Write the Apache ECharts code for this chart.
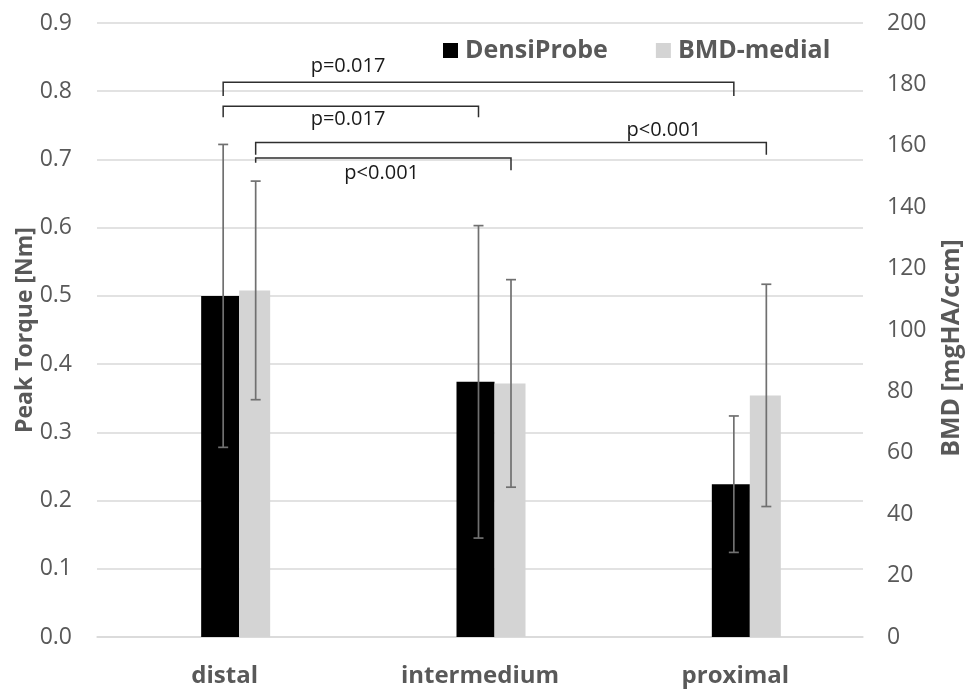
<!DOCTYPE html>
<html><head><meta charset="utf-8">
<script src="https://cdn.jsdelivr.net/npm/echarts@6/dist/echarts.min.js"></script>
<style>html,body{margin:0;padding:0;background:#fff}#c{width:972px;height:690px}</style>
</head><body><div id="c"></div>
<script>
// ---- data ----
const categories = ['distal', 'intermedium', 'proximal'];
const densiProbeMean = [0.500, 0.374, 0.224];   // Peak Torque [Nm]
const densiProbeSD   = [0.222, 0.229, 0.100];
const bmdMedialMean  = [112.9, 82.6, 78.7];      // BMD [mgHA/ccm]
const bmdMedialSD    = [35.6, 33.8, 36.2];
const leftAxisMax = 0.9, leftAxisStep = 0.1;
const rightAxisMax = 200, rightAxisStep = 20;
// significance brackets (levels in Peak Torque units); series 0 = DensiProbe, 1 = BMD-medial
const bracketLabels      = ['p=0.017', 'p=0.017', 'p<0.001', 'p<0.001'];
const bracketStartCat    = [0, 0, 0, 0];
const bracketStartSeries = [0, 0, 1, 1];
const bracketEndCat      = [2, 1, 2, 1];
const bracketEndSeries   = [0, 0, 1, 1];
const bracketLevel       = [0.813, 0.778, 0.725, 0.702];
const bracketStartLeg    = [0.793, 0.762, 0.707, 0.695];
const bracketEndLeg      = [0.793, 0.762, 0.707, 0.684];
const labelCatPos        = [0.483, 0.483, 1.72, 0.615];
const labelLevel         = [0.836, 0.759, 0.743, 0.679];

// ---- styles ----
const FONT = 'Open Sans';
const TXT = '#595959';
const seriesOffset = [-1.5, 31];   // px offset of each series' error bar from category centre
const ERR = '#707070';

const chart = echarts.init(document.getElementById('c'));

function errData(mean, sd) {
  return mean.map((m, i) => [i, m - sd[i], m + sd[i]]);
}
function errRender(s) {
  return function (params, api) {
    const i = api.value(0);
    const top = api.coord([i, api.value(2)]);
    const bot = api.coord([i, api.value(1)]);
    const x = top[0] + seriesOffset[s];
    const cap = 5;
    const st = { stroke: ERR, lineWidth: 1.7 };
    return { type: 'group', children: [
      { type: 'line', shape: { x1: x, y1: top[1], x2: x, y2: bot[1] }, style: st },
      { type: 'line', shape: { x1: x - cap, y1: top[1], x2: x + cap, y2: top[1] }, style: st },
      { type: 'line', shape: { x1: x - cap, y1: bot[1], x2: x + cap, y2: bot[1] }, style: st }
    ]};
  };
}

const bracketData = bracketLabels.map((_, i) => [bracketStartCat[i], bracketEndCat[i], bracketLevel[i], bracketStartLeg[i], bracketEndLeg[i], bracketStartSeries[i], bracketEndSeries[i]]);
const labelData = bracketLabels.map((_, i) => [labelCatPos[i], labelLevel[i]]);

chart.setOption({
  animation: false,
  backgroundColor: '#fff',
  textStyle: { fontFamily: FONT },
  grid: { left: 97, right: 109, top: 23, bottom: 53 },
  legend: {
    data: ['DensiProbe', 'BMD-medial'],
    left: 438, top: 33,
    itemWidth: 15, itemHeight: 15, itemGap: 48,
    icon: 'rect',
    textStyle: { fontFamily: FONT, fontSize: 25, fontWeight: 'bold', color: TXT, padding: [0, 0, 0, 2] }
  },
  xAxis: {
    type: 'category', data: categories,
    axisLine: { lineStyle: { color: '#d9d9d9', width: 1.5 } },
    axisTick: { show: false },
    axisLabel: { fontFamily: FONT, fontSize: 24, fontWeight: 'bold', color: TXT, margin: 27 }
  },
  yAxis: [
    { type: 'value', min: 0, max: leftAxisMax, interval: leftAxisStep,
      name: 'Peak Torque [Nm]', nameLocation: 'middle', nameRotate: 90, nameGap: 60, nameMoveOverlap: false,
      nameTextStyle: { fontFamily: FONT, fontSize: 23, fontWeight: 'bold', color: TXT },
      axisLine: { show: false }, axisTick: { show: false },
      axisLabel: { fontFamily: FONT, fontSize: 23, color: TXT, margin: 25, formatter: v => v.toFixed(1) },
      splitLine: { lineStyle: { color: '#d9d9d9', width: 1.5 } } },
    { type: 'value', min: 0, max: rightAxisMax, interval: rightAxisStep, position: 'right',
      name: 'BMD [mgHA/ccm]', nameLocation: 'middle', nameRotate: 90, nameGap: 76, nameMoveOverlap: false,
      nameTextStyle: { fontFamily: FONT, fontSize: 25, fontWeight: 'bold', color: TXT, padding: [0, 36, 0, 0] },
      axisLine: { show: false }, axisTick: { show: false },
      axisLabel: { fontFamily: FONT, fontSize: 23, color: TXT, margin: 24 },
      splitLine: { show: false } }
  ],
  series: [
    { type: 'bar', name: 'spacer', data: [], barWidth: 22, barGap: '0%', silent: true, itemStyle: { color: 'transparent' } },
    { type: 'bar', name: 'DensiProbe', data: densiProbeMean, yAxisIndex: 0, barWidth: 38, barGap: '0%',
      itemStyle: { color: '#000000' } },
    { type: 'bar', name: 'BMD-medial', data: bmdMedialMean, yAxisIndex: 1, barWidth: 31, barGap: '0%',
      itemStyle: { color: '#d4d4d4' } },
    { type: 'custom', name: 'DensiProbe SD', yAxisIndex: 0, data: errData(densiProbeMean, densiProbeSD),
      renderItem: errRender(0), encode: { x: 0, y: [1, 2] }, z: 5, silent: true },
    { type: 'custom', name: 'BMD SD', yAxisIndex: 1, data: errData(bmdMedialMean, bmdMedialSD),
      renderItem: errRender(1), encode: { x: 0, y: [1, 2] }, z: 5, silent: true },
    { type: 'custom', name: 'brackets', yAxisIndex: 0, data: bracketData, silent: true, z: 6,
      encode: { x: [0, 1], y: [2, 3, 4] },
      renderItem: function (params, api) {
        const a = api.coord([api.value(0), api.value(2)]);
        const b = api.coord([api.value(1), api.value(2)]);
        const la = api.coord([api.value(0), api.value(3)]);
        const lb = api.coord([api.value(1), api.value(4)]);
        const xa = a[0] + seriesOffset[api.value(5)];
        const xb = b[0] + seriesOffset[api.value(6)];
        return { type: 'polyline', shape: { points: [[xa, la[1]], [xa, a[1]], [xb, b[1]], [xb, lb[1]]] },
          style: { stroke: '#2e2e2e', lineWidth: 1.5, fill: null } };
      } },
    { type: 'custom', name: 'p-values', yAxisIndex: 0, data: labelData, silent: true, z: 7,
      encode: { x: 0, y: 1 },
      renderItem: function (params, api) {
        const pos = api.value(0);
        const i0 = Math.floor(pos), t = pos - i0;
        const p0 = api.coord([i0, api.value(1)]);
        const p1 = api.coord([i0 + 1, api.value(1)]);
        const x = p0[0] + t * (p1[0] - p0[0]);
        return { type: 'text', style: { text: bracketLabels[params.dataIndex], x: x, y: p0[1],
          align: 'center', verticalAlign: 'middle', fontFamily: FONT, fontSize: 20, fill: '#1a1a1a' } };
      } }
  ]
});
</script></body></html>
